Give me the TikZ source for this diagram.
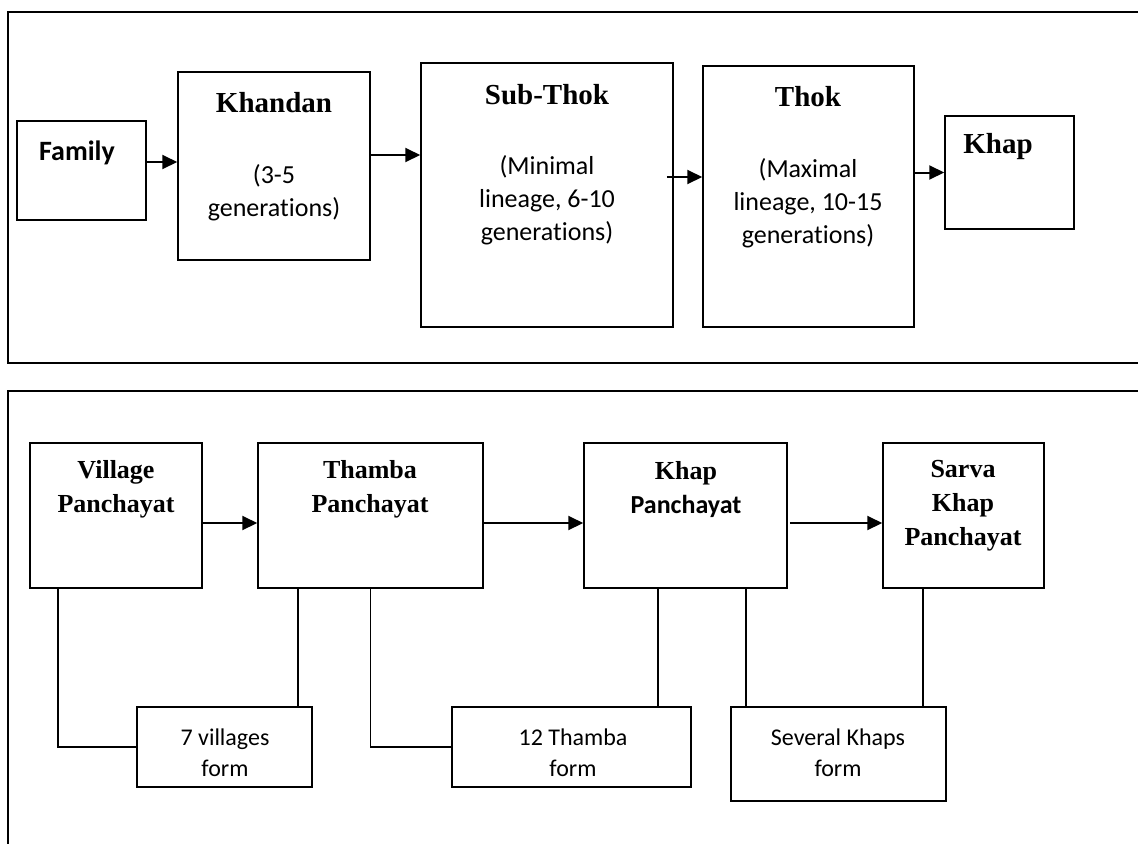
\documentclass[tikz,border=0pt]{standalone}
\usepackage{fontspec}
\setmainfont{Liberation Serif}
\newfontfamily\calibri[Ligatures=NoCommon]{Carlito}
\usepackage{tikz}
\usetikzlibrary{positioning, arrows.meta}

\begin{document}
\begin{tikzpicture}[
    x=1pt, y=-1pt,
    box/.style={draw, line width=1.5pt, inner sep=0pt},
    head/.style={font=\bfseries\fontsize{29}{35}\selectfont, align=center, inner sep=0pt},
    bhead/.style={font=\bfseries\fontsize{26}{34}\selectfont, align=center, inner sep=0pt},
    sub/.style={font=\calibri\fontsize{26}{33}\selectfont, align=center, inner sep=0pt},
    note/.style={font=\calibri\fontsize{24}{31}\selectfont, align=center, inner sep=0pt},
    arrow/.style={-{Triangle[length=15pt,width=14pt]}, line width=2pt},
    link/.style={line width=1.5pt}
]
\useasboundingbox (0,0) rectangle (1138,844);

% panels
\draw[line width=1.6pt] (1138,12) -- (8,12) -- (8,363) -- (1138,363);
\draw[line width=1.6pt] (1138,391) -- (8,391) -- (8,844);

% lineage
\node[box, minimum width=129pt, minimum height=99pt] (family) at (81.5,170.5) {};
\node[box, minimum width=192pt, minimum height=188pt] (khandan) at (274,166) {};
\node[box, minimum width=252pt, minimum height=264pt] (subthok) at (547,195) {};
\node[box, minimum width=211pt, minimum height=261pt] (thok) at (808.5,196.5) {};
\node[box, minimum width=129pt, minimum height=113pt] (khap) at (1009.5,172.5) {};

\node[sub, font=\calibri\bfseries\fontsize{28}{34}\selectfont] (familyT) at (77,153) {Family};
\node[head] (khandanT) at (274,103) {Khandan};
\node[sub] (khandanS) at (274,193) {(3-5\\generations)};
\node[head] (subthokT) at (547,95) {Sub-Thok};
\node[sub] (subthokS) at (547,200) {(Minimal\\lineage, 6-10\\generations)};
\node[head] (thokT) at (808,97) {Thok};
\node[sub] (thokS) at (808,203) {(Maximal\\lineage, 10-15\\generations)};
\node[head] (khapT) at (998,147) {Khap};

\draw[arrow] ([yshift=8.5pt]family.east) -- ([yshift=8.5pt]family.east -| khandan.west);
\draw[arrow] ([yshift=11pt]khandan.east) -- ([yshift=11pt]khandan.east -| subthok.west);
\draw[arrow] ([xshift=-7pt,yshift=18pt]subthok.east) -- ([yshift=18pt]subthok.east -| thok.west);
\draw[arrow] (thok.east |- khap.west) -- (khap.west);

% panchayats
\node[box, minimum width=172pt, minimum height=145pt] (village) at (116,515.5) {};
\node[box, minimum width=225pt, minimum height=145pt] (thamba) at (370.5,515.5) {};
\node[box, minimum width=203pt, minimum height=145pt] (khapp) at (685.5,515.5) {};
\node[box, minimum width=161pt, minimum height=145pt] (sarva) at (963.5,515.5) {};

\node[bhead] (villageT) at (116,489.5) {Village\\Panchayat};
\node[bhead] (thambaT) at (370,489.5) {Thamba\\Panchayat};
\node[bhead] (khappT) at (686,489.5) {Khap\\{\calibri\fontsize{26}{34}\selectfont Panchayat}};
\node[bhead] (sarvaT) at (963,506) {Sarva\\Khap\\Panchayat};

\draw[arrow] ([yshift=-7.5pt]village.east) -- ([yshift=-7.5pt]village.east -| thamba.west);
\draw[arrow] ([yshift=-7.5pt]thamba.east) -- ([yshift=-7.5pt]thamba.east -| khapp.west);
\draw[arrow] ([xshift=2pt,yshift=-7.5pt]khapp.east) -- ([yshift=-7.5pt]khapp.east -| sarva.west);

\node[box, minimum width=175pt, minimum height=80pt] (seven) at (224.5,747) {};
\node[box, minimum width=239pt, minimum height=80pt] (twelve) at (571.5,747) {};
\node[box, minimum width=215pt, minimum height=94pt] (several) at (838.5,754) {};

\node[note] (sevenT) at (225,752.5) {7 villages\\form};
\node[note] (twelveT) at (573,752.5) {12 Thamba\\form};
\node[note] (severalT) at (838,752.5) {Several Khaps\\form};

\draw[link] ([xshift=-58pt]village.south) |- (seven.west);
\draw[link] ([xshift=-72.5pt]thamba.south) -- ([xshift=-72.5pt]thamba.south |- seven.north);
\draw[link] (thamba.south) |- (twelve.west);
\draw[link] ([xshift=-27.5pt]khapp.south) -- ([xshift=-27.5pt]khapp.south |- twelve.north);
\draw[link] ([xshift=60.5pt]khapp.south) -- ([xshift=60.5pt]khapp.south |- several.north);
\draw[link] ([xshift=-40.5pt]sarva.south) -- ([xshift=-40.5pt]sarva.south |- several.north);

\end{tikzpicture}
\end{document}
